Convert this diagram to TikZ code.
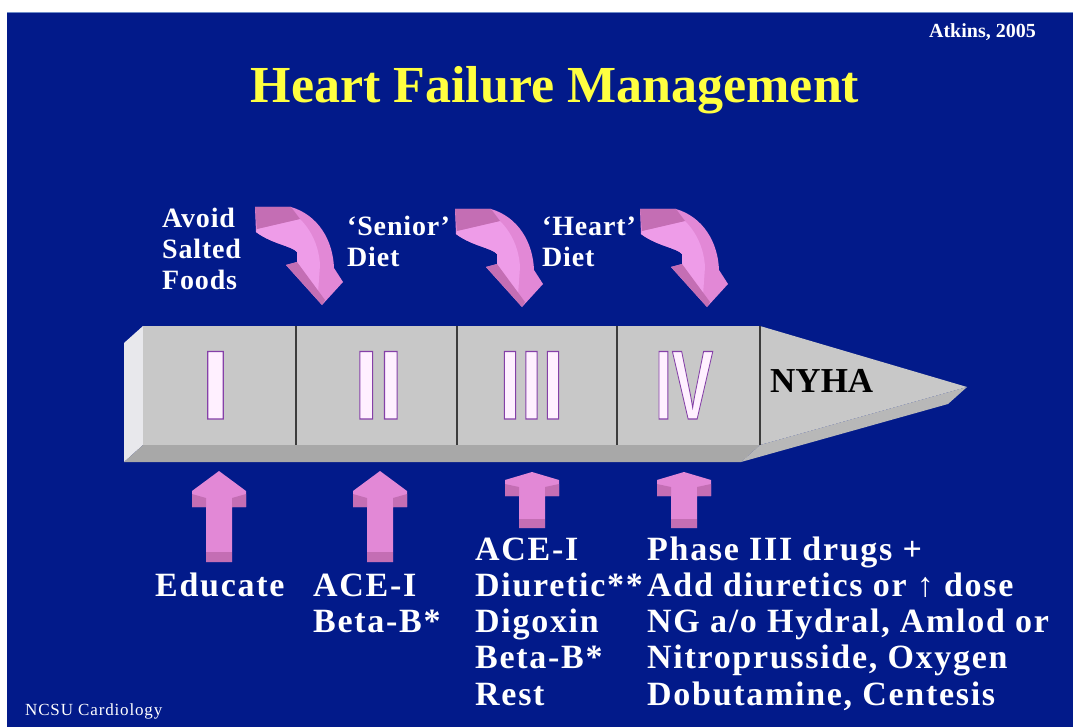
\documentclass[tikz,border=0pt]{standalone}
\usepackage{fontspec}
\setmainfont{Liberation Serif}
\newfontfamily\lblfont[LetterSpace=5]{Liberation Serif}
\newfontfamily\toplblfont[LetterSpace=3]{Liberation Serif}
\newfontfamily\numfont{Liberation Sans}
\newcommand\outlinetext[1]{\special{pdf:literal direct 2 Tr 1.3 w 0.52 0.25 0.66 RG}#1\special{pdf:literal direct 0 Tr}}
\definecolor{bg}{RGB}{2,26,138}
\definecolor{topedge}{RGB}{110,140,200}
\definecolor{pinkmid}{RGB}{226,136,214}
\definecolor{pinkdark}{RGB}{196,110,180}
\definecolor{pinklight}{RGB}{238,156,232}
\definecolor{barface}{RGB}{200,200,200}
\definecolor{barleft}{RGB}{232,232,236}
\definecolor{barbottom}{RGB}{168,168,168}
\definecolor{tipbottom}{RGB}{184,184,184}
\definecolor{dividercol}{RGB}{60,60,60}
\definecolor{numfill}{RGB}{255,240,255}
\definecolor{titleyellow}{RGB}{255,255,64}
\begin{document}
\begin{tikzpicture}[x=1pt,y=-1pt,
  titlestyle/.style={text=titleyellow,inner sep=0,font=\bfseries\fontsize{52}{60}\selectfont},
  creditstyle/.style={text=white,inner sep=0,font=\bfseries\fontsize{20}{24}\selectfont},
  toplbl/.style={text=white,inner sep=0,align=left,font=\toplblfont\bfseries\fontsize{28}{31}\selectfont},
  botlbl/.style={text=white,inner sep=0,align=left,font=\lblfont\bfseries\fontsize{34}{36.3}\selectfont},
  footlbl/.style={text=white,inner sep=0,font=\lblfont\fontsize{17}{20}\selectfont},
  numeral/.style={text=numfill,inner sep=0,anchor=base,font=\numfont\bfseries\fontsize{98}{98}\selectfont},
  nyhastyle/.style={text=black,inner sep=0,font=\bfseries\fontsize{35}{40}\selectfont},
  dividerline/.style={draw=dividercol,line width=2pt},
  curvarrow/.pic={
    \fill[pinkmid] (-67,-98) -- (-31,-98) .. controls (-4,-90) and (11,-65) .. (12,-37) -- (21,-23) -- (0,0) -- (-36,-40) -- (-25,-43) -- (-25,-53) .. controls (-30,-59) and (-50,-61) .. (-66,-73) -- cycle;
    \fill[pinklight] (-65,-76) -- (-22,-86) .. controls (-10,-74) and (-3,-58) .. (-2,-40) -- (-4,-12) -- (-25,-43) -- (-25,-53) .. controls (-30,-59) and (-50,-61) .. (-66,-73) -- cycle;
    \fill[pinkdark] (-67,-98) -- (-31,-98) -- (-22,-86) -- (-65,-76) -- cycle;
    \fill[pinkdark] (-36,-40) -- (-25,-43) -- (3,-5) -- (0,0) -- cycle;
  },
  uplong/.pic={
    \fill[pinkmid] (0,0) -- (27,20) -- (27,36) -- (13,36) -- (13,91) -- (-13,91) -- (-13,36) -- (-27,36) -- (-27,20) -- cycle;
    \fill[pinkdark] (-27,23) -- (-13,27) -- (-13,36) -- (-27,36) -- cycle;
    \fill[pinkdark] (27,23) -- (13,27) -- (13,36) -- (27,36) -- cycle;
    \fill[pinkdark] (-13,81) rectangle (13,91);
  },
  upshort/.pic={
    \fill[pinkmid] (0,0) -- (27,8) -- (27,24) -- (13,24) -- (13,56) -- (-13,56) -- (-13,24) -- (-27,24) -- (-27,8) -- cycle;
    \fill[pinkdark] (-27,12) -- (-13,15) -- (-13,24) -- (-27,24) -- cycle;
    \fill[pinkdark] (27,12) -- (13,15) -- (13,24) -- (27,24) -- cycle;
    \fill[pinkdark] (-13,47) rectangle (13,56);
  }
]
\useasboundingbox (0,0) rectangle (1073,727);
\fill[white] (0,0) rectangle (1073,727);
\fill[bg] (7,12) rectangle (1073,727);
\draw[topedge,line width=1.5pt] (7,12.75) -- (1073,12.75);

% title and credit
\node[titlestyle,anchor=base] (title) at (555,103) {Heart Failure Management};
\node[creditstyle,anchor=base east] (credit) at (1036,38) {Atkins, 2005};

% 3D bar
\fill[barleft] (124,343) -- (143,326) -- (143,445) -- (124,462) -- cycle;
\fill[barbottom] (143,445) -- (760,445) -- (741,462) -- (124,462) -- cycle;
\fill[tipbottom] (760,445) -- (967,387) -- (948,404) -- (741,462) -- cycle;
\fill[barface] (143,326) rectangle (760,445);
\fill[barface] (760,326) -- (967,387) -- (760,445) -- cycle;
\draw[dividerline] (296,326) -- (296,445);
\draw[dividerline] (457,326) -- (457,445);
\draw[dividerline] (617,326) -- (617,445);
\draw[dividerline] (760,326) -- (760,445);

% roman numerals
\node[numeral] (n1) at (215.5,419) {\scalebox{1.1}[1]{\outlinetext{I}}};
\node[numeral] (n2) at (378.5,419) {\scalebox{0.9}[1]{\outlinetext{II}}};
\node[numeral] (n3) at (531.5,419) {\scalebox{0.79}[1]{\outlinetext{III}}};
\node[numeral] (n4) at (684,419) {\scalebox{0.63}[1]{\outlinetext{IV}}};
\node[nyhastyle,anchor=base west] (nyha) at (770,392) {NYHA};

% curved arrows
\pic at (322,305) {curvarrow};
\pic at (522,307) {curvarrow};
\pic at (707,307) {curvarrow};

% up arrows
\pic at (219,471) {uplong};
\pic at (380,471) {uplong};
\pic at (532,472) {upshort};
\pic at (684,472) {upshort};

% top labels (anchor = baseline of last line)
\node[toplbl,anchor=base west] (avoid) at (162,289) {Avoid\\Salted\\Foods};
\node[toplbl,anchor=base west] (senior) at (347,266) {‘Senior’\\Diet};
\node[toplbl,anchor=base west] (heart) at (542,266) {‘Heart’\\Diet};

% bottom labels (anchor = baseline of last line)
\node[botlbl,anchor=base west] (educate) at (155,596) {Educate};
\node[botlbl,anchor=base west] (col2) at (313,632.3) {ACE-I\\Beta-B*};
\node[botlbl,anchor=base west] (col3) at (475,705.2) {ACE-I\\Diuretic**\\Digoxin\\Beta-B*\\Rest};
\node[botlbl,anchor=base west] (col4) at (647,705.2) {Phase III drugs +\\Add diuretics or ↑ dose\\NG a/o Hydral, Amlod or\\Nitroprusside, Oxygen\\Dobutamine, Centesis};

\node[footlbl,anchor=base west] (ncsu) at (25,715) {NCSU Cardiology};
\end{tikzpicture}
\end{document}
